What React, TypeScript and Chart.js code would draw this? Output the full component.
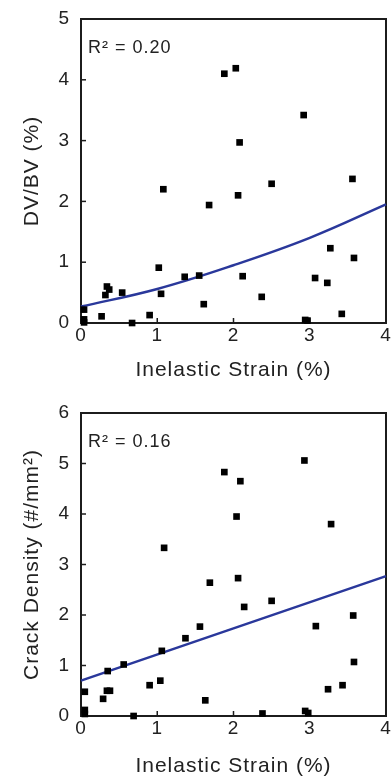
import React, { useEffect, useRef } from "react";
import { Chart, registerables } from "chart.js";

Chart.register(...registerables);

// ---- Data ----
const strainTop = [0.04, 0.04, 0.04, 0.27, 0.32, 0.34, 0.37, 0.54, 0.67, 0.90, 1.02, 1.05, 1.08, 1.36, 1.55, 1.61, 1.68, 1.88, 2.03, 2.06, 2.08, 2.12, 2.37, 2.50, 2.92, 2.94, 2.97, 3.07, 3.23, 3.27, 3.42, 3.56, 3.58];
const dvbvValues = [0.22, 0.06, 0.01, 0.11, 0.46, 0.60, 0.55, 0.50, 0.00, 0.13, 0.91, 0.48, 2.20, 0.76, 0.78, 0.31, 1.94, 4.10, 4.19, 2.10, 2.97, 0.77, 0.43, 2.29, 3.42, 0.05, 0.04, 0.74, 0.66, 1.23, 0.15, 2.37, 1.07];

const strainBottom = [0.05, 0.05, 0.05, 0.29, 0.34, 0.35, 0.38, 0.56, 0.69, 0.90, 1.04, 1.06, 1.09, 1.37, 1.56, 1.63, 1.69, 1.88, 2.04, 2.06, 2.09, 2.14, 2.38, 2.50, 2.93, 2.94, 2.98, 3.08, 3.24, 3.28, 3.43, 3.57, 3.58];
const crackValues = [0.48, 0.12, 0.04, 0.34, 0.50, 0.89, 0.50, 1.02, 0.00, 0.61, 0.70, 1.29, 3.33, 1.54, 1.77, 0.31, 2.64, 4.83, 3.95, 2.73, 4.65, 2.16, 0.05, 2.28, 5.06, 0.10, 0.06, 1.78, 0.53, 3.80, 0.61, 1.99, 1.07];

const fitTopX = [0, 1, 2, 3, 4];
const fitTopY = [0.27, 0.56, 0.95, 1.40, 1.95];
const fitBottomX = [0, 4];
const fitBottomY = [0.70, 2.77];

const xRange = [0, 4];
const topYRange = [0, 5];
const bottomYRange = [0, 6];

const xTitle = "Inelastic Strain (%)";
const topYTitle = "DV/BV (%)";
const bottomYTitle = "Crack Density (#/mm²)";
const topR2 = "R² = 0.20";
const bottomR2 = "R² = 0.16";

const FONT = '"Liberation Sans", Arial, sans-serif';
const TEXT = "#222222";
const LINE = "#2a389b";

const framePlugin = {
  id: "frameTicks",
  beforeUpdate(chart: any) {
    try {
      (chart.ctx as any).letterSpacing = "1px";
    } catch (e) {}
  },
  beforeDatasetsDraw(chart: any) {
    const { ctx, chartArea: a, scales } = chart;
    const xs = scales.x;
    const ys = scales.y;
    ctx.save();
    ctx.strokeStyle = "#1c1c1c";
    ctx.lineWidth = 1.5;
    xs.ticks.forEach((t: any) => {
      const px = xs.getPixelForValue(t.value);
      ctx.beginPath();
      ctx.moveTo(px, a.bottom);
      ctx.lineTo(px, a.bottom - 5);
      ctx.stroke();
    });
    ys.ticks.forEach((t: any) => {
      const py = ys.getPixelForValue(t.value);
      ctx.beginPath();
      ctx.moveTo(a.left, py);
      ctx.lineTo(a.left + 5, py);
      ctx.stroke();
    });
    ctx.lineWidth = 2;
    ctx.strokeRect(a.left, a.top, a.right - a.left, a.bottom - a.top);
    const label = chart.options.plugins.frameTicks?.label;
    if (label) {
      ctx.fillStyle = TEXT;
      ctx.font = `18px ${FONT}`;
      ctx.textAlign = "left";
      ctx.textBaseline = "alphabetic";
      ctx.fillText(label, a.left + 7, a.top + 33.5);
    }
    ctx.restore();
  },
};

function makeConfig(
  xs: number[],
  ys: number[],
  fx: number[],
  fy: number[],
  yRange: number[],
  yTitle: string,
  r2: string,
  topPad: number,
  xAxisHeight: number,
  xTitlePadBottom: number
): any {
  return {
    type: "scatter",
    data: {
      datasets: [
        {
          type: "scatter",
          data: xs.map((x, i) => ({ x, y: ys[i] })),
          pointStyle: "rect",
          pointRadius: 4.7,
          pointHoverRadius: 4.7,
          backgroundColor: "#000",
          borderWidth: 0,
          clip: false,
        },
        {
          type: "line",
          data: fx.map((x, i) => ({ x, y: fy[i] })),
          borderColor: LINE,
          borderWidth: 2.5,
          pointRadius: 0,
          fill: false,
          tension: 0.4,
          clip: false,
        },
      ],
    },
    options: {
      animation: false,
      responsive: false,
      events: [],
      layout: { padding: { top: topPad, left: 0, right: 5, bottom: 0 } },
      plugins: {
        legend: { display: false },
        tooltip: { enabled: false },
        frameTicks: { label: r2 },
      },
      scales: {
        x: {
          type: "linear",
          min: xRange[0],
          max: xRange[1],
          grid: { display: false, drawTicks: false },
          border: { display: false },
          ticks: {
            stepSize: 1,
            padding: 1,
            color: TEXT,
            font: { family: FONT, size: 19, lineHeight: 1.2 },
            maxRotation: 0,
          },
          title: {
            display: true,
            text: xTitle,
            color: TEXT,
            font: { family: FONT, size: 21, lineHeight: 1 },
            padding: { top: 0, bottom: xTitlePadBottom },
          },
          afterFit: (s: any) => {
            s.height = xAxisHeight;
            s.paddingLeft = 0;
            s.paddingRight = 0;
          },
        },
        y: {
          type: "linear",
          min: yRange[0],
          max: yRange[1],
          grid: { display: false, drawTicks: false },
          border: { display: false },
          ticks: {
            stepSize: 1,
            padding: 11,
            color: TEXT,
            font: { family: FONT, size: 19, lineHeight: 1.2 },
          },
          title: {
            display: true,
            text: yTitle,
            color: TEXT,
            font: { family: FONT, size: 21, lineHeight: 1 },
            padding: { top: 21.5, bottom: 0 },
          },
          afterFit: (s: any) => {
            s.width = 81;
            s.paddingTop = 0;
            s.paddingBottom = 0;
          },
        },
      },
    },
    plugins: [framePlugin],
  };
}

function ChartCanvas({ config, height }: { config: any; height: number }) {
  const ref = useRef<HTMLCanvasElement | null>(null);
  useEffect(() => {
    if (!ref.current) return;
    const chart = new Chart(ref.current, config);
    return () => chart.destroy();
  }, [config]);
  return <canvas ref={ref} width={391} height={height} style={{ display: "block", width: 391, height }} />;
}

const topConfig = makeConfig(strainTop, dvbvValues, fitTopX, fitTopY, topYRange, topYTitle, topR2, 19, 67, 9);
const bottomConfig = makeConfig(strainBottom, crackValues, fitBottomX, fitBottomY, bottomYRange, bottomYTitle, bottomR2, 23, 65, 4.5);

export default function App() {
  return (
    <div style={{ position: "absolute", left: 0, top: 0, width: 391, height: 781, background: "#fff" }}>
      <ChartCanvas config={topConfig} height={390} />
      <ChartCanvas config={bottomConfig} height={391} />
    </div>
  );
}
